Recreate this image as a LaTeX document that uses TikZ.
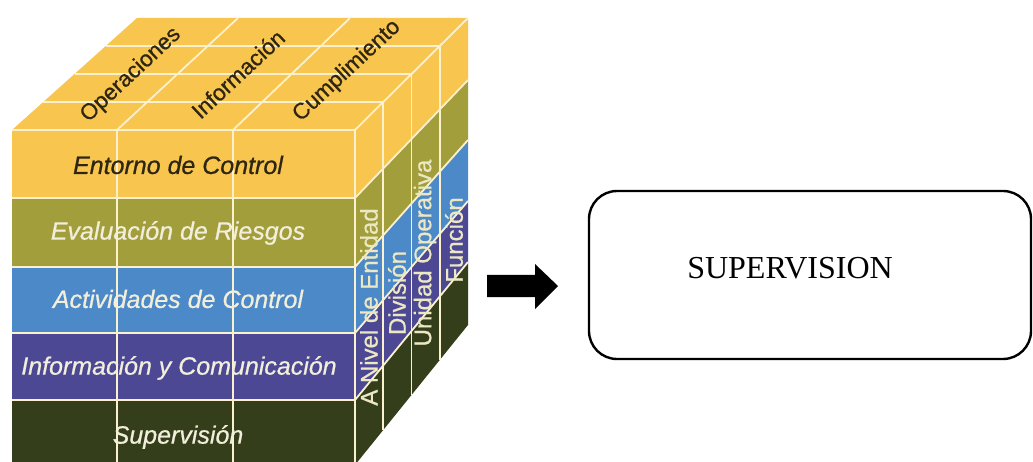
\documentclass[tikz,border=0pt]{standalone}
\usepackage{fontspec}
\setmainfont{Liberation Sans}
\newfontfamily\cubesans[FakeBold=0.7]{Liberation Sans}
\newfontfamily\boxserif{Liberation Serif}
\definecolor{cyel}{HTML}{F8C54E}
\definecolor{colive}{HTML}{A29E3B}
\definecolor{cblue}{HTML}{4B89C9}
\definecolor{cpurp}{HTML}{4D4894}
\definecolor{cdark}{HTML}{353E1B}
\definecolor{gridc}{HTML}{FBF1CF}
\definecolor{darktxt}{HTML}{2E2612}
\definecolor{lighttxt}{HTML}{F1EEDB}
\definecolor{sidetxt}{HTML}{EDE8C4}
\begin{document}
\begin{tikzpicture}[x=1pt,y=-1pt,
  gridline/.style={draw=gridc, line width=1.8pt},
  flabel/.style={font=\cubesans\fontsize{25}{30}\selectfont\itshape, text=lighttxt, inner sep=0pt},
  tlabel/.style={font=\cubesans\fontsize{22.5}{26}\selectfont, text=darktxt, rotate=43, inner sep=0pt},
  slabel/.style={font=\cubesans\fontsize{24}{28}\selectfont, text=sidetxt, rotate=90, inner sep=0pt},
  boxstyle/.style={draw=black, line width=2.4pt, rounded corners=28pt, minimum width=442pt, minimum height=168pt, inner sep=0pt},
  blockarrow/.style={fill=black}
]
\useasboundingbox (0,0) rectangle (1033,462);
\clip (0,0) rectangle (1033,462);
\fill[white] (0,0) rectangle (1033,462);

% ---- front face bands
\fill[cyel]   (12,130) rectangle (355,198);
\fill[colive] (12,198) rectangle (355,267);
\fill[cblue]  (12,267) rectangle (355,333);
\fill[cpurp]  (12,333) rectangle (355,400);
\fill[cdark]  (12,400) rectangle (355,470);

% ---- top face
\fill[cyel] (12,130) -- (355,130) -- (468,18) -- (137,18) -- cycle;

% ---- side face bands
\fill[cyel]   (355,130) -- (468,18)  -- (468,80)  -- (355,198) -- cycle;
\fill[colive] (355,198) -- (468,80)  -- (468,140) -- (355,267) -- cycle;
\fill[cblue]  (355,267) -- (468,140) -- (468,201) -- (355,333) -- cycle;
\fill[cpurp]  (355,333) -- (468,201) -- (468,262) -- (355,400) -- cycle;
\fill[cdark]  (355,400) -- (468,262) -- (468,325) -- (355,465) -- cycle;

% ---- grid lines: front
\foreach \y in {130,198,267,333,400} \draw[gridline] (12,\y) -- (355,\y);
\foreach \x in {117,233} \draw[gridline] (\x,130) -- (\x,470);
\draw[gridline] (355,130) -- (355,470);
% top face
\foreach \t in {0.25,0.5,0.75}
  \draw[gridline] ({12+125*\t},{130-112*\t}) -- ({355+113*\t},{130-112*\t});
\draw[gridline] (117,130) -- (238,18);
\draw[gridline] (233,130) -- (350,18);
% side face
\draw[gridline] (355,130) -- (468,18);
\draw[gridline] (355,198) -- (468,80);
\draw[gridline] (355,267) -- (468,140);
\draw[gridline] (355,333) -- (468,201);
\draw[gridline] (355,400) -- (468,262);
\foreach \t in {0.25,0.5,0.75}
  \draw[gridline] ({355+113*\t},{130-112*\t}) -- ({355+113*\t},{465-140*\t});

% ---- top labels
\node[tlabel] (ope) at (131,75) {Operaciones};
\node[tlabel] (inf) at (238,74) {Información};
\node[tlabel] (cum) at (347,71) {Cumplimiento};

% ---- front labels
\node[flabel, text=darktxt] (ent) at (178,165) {Entorno de Control};
\node[flabel] (eva) at (178,233) {Evaluación de Riesgos};
\node[flabel] (act) at (178,299) {Actividades de Control};
\node[flabel] (ic)  at (179,368) {Información y Comunicación};
\node[flabel] (sup) at (178,437) {Supervisión};

% ---- side labels
\node[slabel] (niv) at (369,307) {A Nivel de Entidad};
\node[slabel] (div) at (397,293) {División};
\node[slabel] (uni) at (425,253) {Unidad Operativa};
\node[slabel] (fun) at (454,240) {Función};

% ---- block arrow
\coordinate (atail) at (487,285.5);
\fill[blockarrow] (atail) ++(0,-10.5) -- ++(48,0) -- ++(0,-11) -- ++(23,22) -- ++(-23,23) -- ++(0,-12) -- ++(-48,0) -- cycle;

% ---- box
\node[boxstyle] (box) at (810,275) {};
\node[font=\boxserif\fontsize{32}{36}\selectfont, inner sep=0pt] (boxtxt) at (790,268) {SUPERVISION};
\end{tikzpicture}
\end{document}
